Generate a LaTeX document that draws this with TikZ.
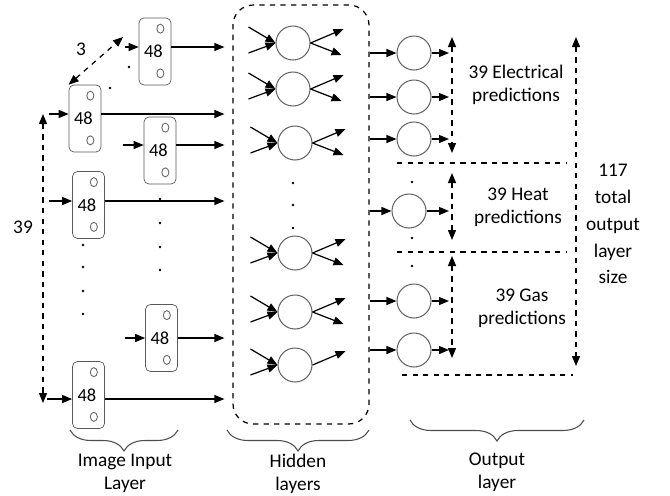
\documentclass[tikz,border=0pt]{standalone}
\usepackage{fontspec}
\setmainfont{Carlito}
\usetikzlibrary{arrows.meta,decorations.pathreplacing}

\begin{document}
\begin{tikzpicture}[x=0.02cm, y=-0.02cm,
    font=\fontsize{11}{13}\selectfont,
    inbox/.style={draw=gray!70!black, rounded corners=2.8pt, minimum width=0.64cm, minimum height=1.34cm,
                  inner xsep=0.1cm, text width=0.44cm, align=left, font=\fontsize{10.5}{12}\selectfont},
    unit/.style={draw=gray!80!black, circle, minimum size=0.68cm, inner sep=0pt, line width=0.6pt},
    arr/.style={-{Triangle[length=0.2cm,width=0.16cm]}, line width=0.7pt},
    darr/.style={{Triangle[length=0.2cm,width=0.16cm]}-{Triangle[length=0.2cm,width=0.16cm]}, dashed, line width=0.7pt},
    sep/.style={dashed, line width=0.7pt},
    ring/.style={draw=gray!80!black, line width=0.5pt},
    lbl/.style={align=center},
    brc/.style={decorate, decoration={brace, mirror, amplitude=0.42cm}, draw=gray!60!black, line width=0.6pt},
  ]
    \useasboundingbox (0,0) rectangle (670,495);

    % input layer
    \node[inbox] (bA) at (155,51.5) {48};
    \node[inbox] (bB) at (85,118.5)  {48};
    \node[inbox] (bC) at (160,150.5) {48};
    \node[inbox] (bD) at (88.5,205)  {48};
    \node[inbox] (bE) at (161.5,338) {48};
    \node[inbox] (bF) at (88.5,395)  {48};
    \foreach \b in {bA,bB,bC,bD,bE,bF} {
      \draw[ring] ([shift={(-11,11)}]\b.north east) ellipse [x radius=0.07cm, y radius=0.09cm];
      \draw[ring] ([shift={(-11,-12)}]\b.south east) ellipse [x radius=0.07cm, y radius=0.09cm];
    }

    % hidden layers
    \node[draw, dashed, rounded corners=0.4cm, minimum width=2.72cm, minimum height=8.38cm, line width=0.7pt] (hid) at (301,214.5) {};
    \node[unit] (h1) at (293,43)  {};
    \node[unit] (h2) at (293,89)  {};
    \node[unit] (h3) at (295,143) {};
    \node[unit] (h4) at (295,253) {};
    \node[unit] (h5) at (295,312) {};
    \node[unit] (h6) at (295,365) {};
    \foreach \h in {h1,h2,h3,h4,h5,h6} {
      \coordinate (\h a) at ([shift={(-27,-16)}]\h.west);
      \coordinate (\h b) at ([shift={(-27,10)}]\h.west);
      \coordinate (\h c) at ([shift={(33,-14)}]\h.east);
      \draw[arr] (\h a) -- (\h.west);
      \draw[arr] (\h b) -- (\h.west);
      \draw[arr] (\h.east) -- (\h c);
    }
    \foreach \h in {h1,h2,h3,h4,h5} {
      \coordinate (\h d) at ([shift={(31,12)}]\h.east);
      \draw[arr] (\h.east) -- (\h d);
    }

    % input arrows
    \coordinate (iA) at (125,47);
    \coordinate (iB) at (49,114);
    \coordinate (iC) at (123,145);
    \coordinate (iD) at (49,201);
    \coordinate (iE) at (125,338);
    \coordinate (iF) at (47,399);
    \foreach \b/\i in {bA/iA,bB/iB,bC/iC,bD/iD,bE/iE,bF/iF} {
      \draw[arr] (\i) -- (\i -| \b.west);
      \draw[arr, shorten >=0.16cm] (\i -| \b.east) -- (\i -| hid.west);
    }
    \coordinate (tA) at (123,37);
    \draw[darr] (bB.north west) -- (tA);
    \node (three) at (81,49) {3};
    \coordinate (vT) at (43,114);
    \coordinate (vB) at (43,403);
    \draw[darr] (vT) -- (vB);
    \node (nine) at (23,227) {39};

    % output layer
    \node[unit] (o1) at (414,53)  {};
    \node[unit] (o2) at (414,97)  {};
    \node[unit] (o3) at (414,139) {};
    \node[unit] (o4) at (409,211) {};
    \node[unit] (o5) at (414,301) {};
    \node[unit] (o6) at (414,350) {};
    \coordinate (eT) at (452,37);
    \coordinate (eB) at (452,153);
    \coordinate (hT) at (452,173);
    \coordinate (hB) at (452,240);
    \coordinate (gT) at (452,256);
    \coordinate (gB) at (452,358);
    \coordinate (tT) at (576,37);
    \coordinate (tB) at (576,366);
    \foreach \o in {o1,o2,o3,o4,o5,o6} {
      \draw[arr] (\o -| hid.east) -- (\o.west);
      \draw[arr, shorten >=0.06cm] (\o.east) -- (\o -| eT);
    }
    \draw[darr] (eT) -- (eB);
    \draw[darr] (hT) -- (hB);
    \draw[darr] (gT) -- (gB);
    \draw[darr] (tT) -- (tB);
    \coordinate (s1a) at (397,163);
    \coordinate (s1b) at (567,163);
    \coordinate (s2a) at (397,252);
    \coordinate (s2b) at (567,252);
    \coordinate (s3a) at (402,375);
    \coordinate (s3b) at (573,375);
    \draw[sep] (s1a) -- (s1b);
    \draw[sep] (s2a) -- (s2b);
    \draw[sep] (s3a) -- (s3b);

    \node[lbl] (elab) at (516,85)  {39 Electrical\\predictions};
    \node[lbl] (hlab) at (518,207) {39 Heat\\predictions};
    \node[lbl] (glab) at (522,308) {39 Gas\\predictions};
    \node[lbl, font=\fontsize{11}{15.3}\selectfont] (tlab) at (613,224) {117\\total\\output\\layer\\size};

    % dots
    \foreach \p in {(129,67),(110,88),(83,245),(83,267),(83,291),(83,314),
                    (160,199),(160,223),(160,247),(160,270),
                    (293,183),(293,205),(293,228),(412,182),(412,238),(412,266)}
      \fill \p circle (0.8pt);

    % braces
    \coordinate (ibL) at (70,430);
    \coordinate (ibR) at (178,430);
    \coordinate (hbL) at (227,430);
    \coordinate (hbR) at (369,430);
    \coordinate (obL) at (410,420);
    \coordinate (obR) at (584,420);
    \draw[brc] (ibL) -- (ibR);
    \draw[brc] (hbL) -- (hbR);
    \draw[brc] (obL) -- (obR);
    \node[lbl] (ilab) at (125,473.5) {Image Input\\Layer};
    \node[lbl] (hlay) at (298,473.5) {Hidden\\layers};
    \node[lbl] (olab) at (497,472.5) {Output\\layer};
  \end{tikzpicture}
\end{document}
